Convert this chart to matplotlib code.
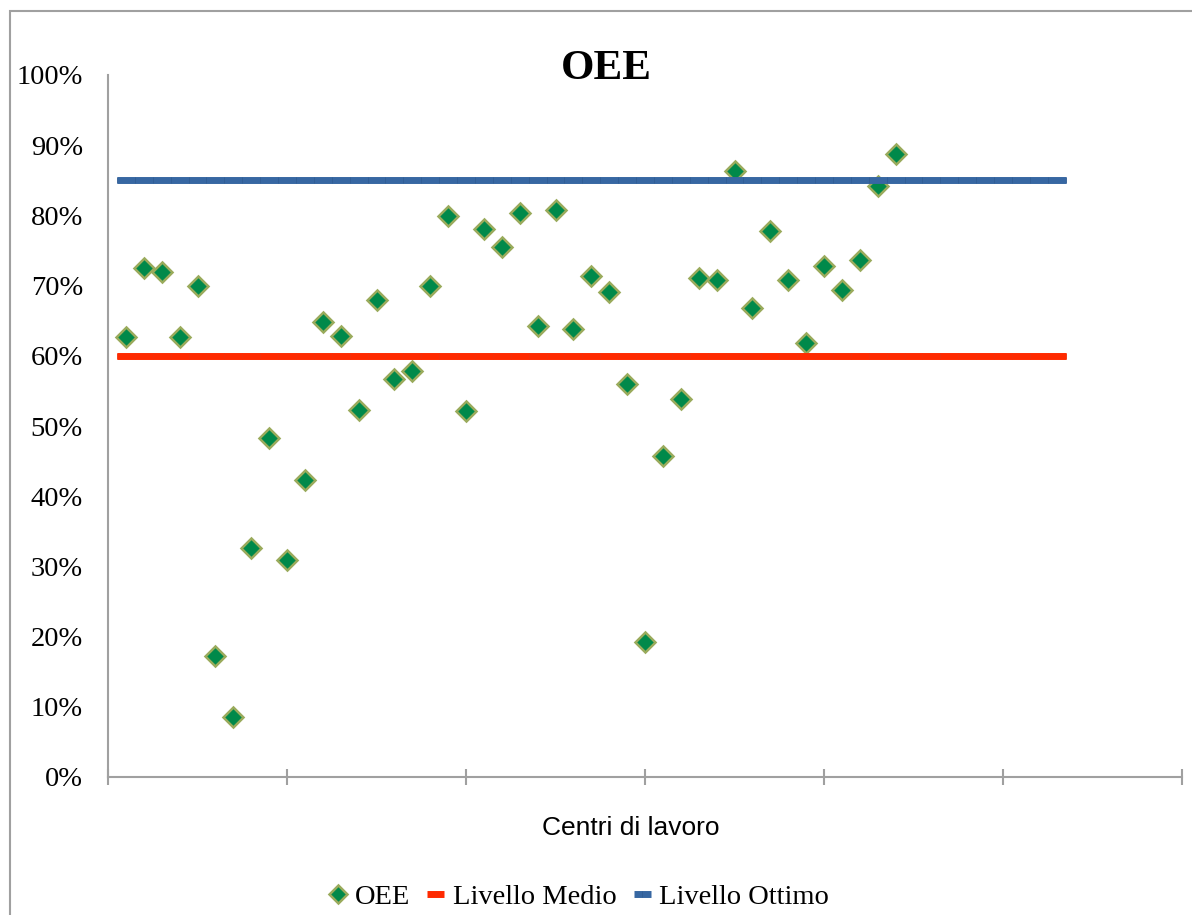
import numpy as np
import matplotlib
matplotlib.use("agg")
import matplotlib.pyplot as plt
from matplotlib.patches import Rectangle
from matplotlib.ticker import PercentFormatter

# OEE per centro di lavoro (frazione)
oee = [0.627, 0.725, 0.719, 0.627, 0.699, 0.172, 0.085, 0.326, 0.483, 0.309,
       0.423, 0.648, 0.628, 0.523, 0.679, 0.567, 0.578, 0.699, 0.799, 0.521,
       0.781, 0.755, 0.803, 0.642, 0.808, 0.638, 0.714, 0.691, 0.560, 0.192,
       0.457, 0.538, 0.711, 0.708, 0.863, 0.668, 0.778, 0.708, 0.618, 0.728,
       0.694, 0.736, 0.842, 0.887]
centri = np.arange(1, len(oee) + 1)

livello_medio = 0.60
livello_ottimo = 0.85
n_livelli = 54
x_livelli = np.arange(n_livelli) + 0.5

serif = "Liberation Serif"
sans = "Liberation Sans"

fig = plt.figure(figsize=(11.92, 9.15), dpi=100)
ax = fig.add_axes([108 / 1192, 1 - 777 / 915, 1074 / 1192, 702 / 915])

ax.plot(centri, oee, linestyle="none", marker="D", markersize=10.5,
        markerfacecolor="#00894a", markeredgecolor="#9aab5c",
        markeredgewidth=1.8, label="OEE", zorder=2)
ax.plot(x_livelli, [livello_medio] * n_livelli, color="#ff2a00", lw=5,
        solid_capstyle="butt", marker="|", markersize=5,
        markeredgecolor="#f3300a", markeredgewidth=0.6,
        label="Livello Medio", zorder=3)
ax.plot(x_livelli, [livello_ottimo] * n_livelli, color="#3767a2", lw=5,
        solid_capstyle="butt", marker="|", markersize=5,
        markeredgecolor="#305d94", markeredgewidth=0.6,
        label="Livello Ottimo", zorder=3)

ax.set_xlim(0, 60)
ax.set_ylim(0, 1)
ax.set_xticks(np.arange(0, 61, 10))
ax.set_xticklabels([])
ax.set_yticks(np.arange(0, 1.01, 0.1))
ax.yaxis.set_major_formatter(PercentFormatter(1.0, decimals=0))

for s in ["top", "right"]:
    ax.spines[s].set_visible(False)
for s in ["left", "bottom"]:
    ax.spines[s].set_color("#a0a0a0")
    ax.spines[s].set_linewidth(1.5)

ax.tick_params(axis="x", direction="inout", length=12, width=1.5,
               color="#a0a0a0")
ax.tick_params(axis="y", length=0, pad=18, labelsize=20.5)
for lab in ax.get_yticklabels():
    lab.set_fontfamily(serif)

ax.set_xlabel("Centri di lavoro", fontsize=19, fontfamily=sans)
ax.xaxis.set_label_coords(0.487, -0.055)

fig.text(0.509, 0.925, "OEE", ha="center", va="center", fontsize=31,
         fontweight="bold", fontfamily=serif)

handles, labels = ax.get_legend_handles_labels()
fig.legend(handles, labels, loc="center", bbox_to_anchor=(0.486, 0.0197),
           ncol=3, frameon=False, prop={"family": serif, "size": 20.5},
           handlelength=0.6, handletextpad=0.3, columnspacing=0.6,
           markerscale=0.9)

# cornice del grafico
fig.add_artist(Rectangle((10 / 1192, -0.1), 1.2, 1.1 - 11 / 915,
                         transform=fig.transFigure, fill=False,
                         edgecolor="#a0a0a0", lw=1.5))

fig.savefig("out.png", dpi=100)
